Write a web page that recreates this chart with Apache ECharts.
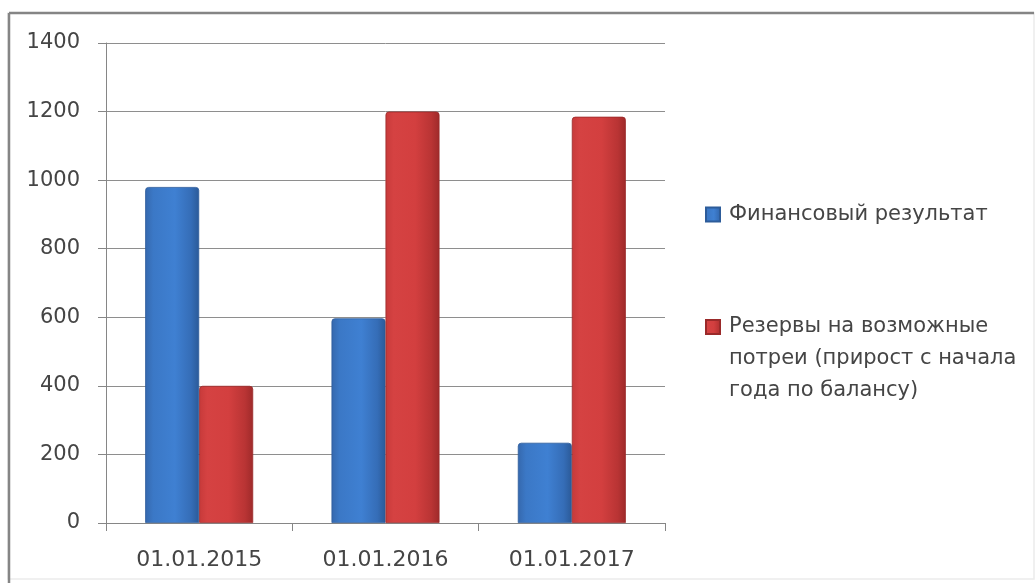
<!DOCTYPE html>
<html>
<head>
<meta charset="utf-8">
<script src="https://cdn.jsdelivr.net/npm/echarts@6/dist/echarts.min.js"></script>
<style>
  html, body { margin: 0; padding: 0; background: #fff; }
  #chart { width: 1036px; height: 583px; }
</style>
</head>
<body>
<div id="chart"></div>
<script>
const categories = ['01.01.2015', '01.01.2016', '01.01.2017'];
const seriesNames = ['Финансовый результат', 'Резервы на возможные потреи (прирост с начала года по балансу)'];
const finResult = [980, 597, 234];
const reserves = [400, 1200, 1185];
const legendLines2 = ['Резервы на возможные', 'потреи (прирост с начала', 'года по балансу)'];

const FONT = '"DejaVu Sans", "Open Sans", sans-serif';
const TXT = '#454545';

function hGrad(stops) {
  return new echarts.graphic.LinearGradient(0, 0, 1, 0, stops.map((c) => ({ offset: c[0], color: c[1] })));
}
const blueFill = hGrad([[0, '#3568ad'], [0.15, '#3b78c6'], [0.55, '#3f80d2'], [0.85, '#356db7'], [1, '#2b5a98']]);
const redFill = hGrad([[0, '#c73a3a'], [0.15, '#d54242'], [0.55, '#d33f3f'], [0.85, '#b93434'], [1, '#9e2a2a']]);

const chart = echarts.init(document.getElementById('chart'), null, { renderer: 'canvas' });
chart.setOption({
  backgroundColor: '#ffffff',
  animation: false,
  textStyle: { fontFamily: FONT },
  graphic: [
    { type: 'rect', shape: { x: 8, y: 13, width: 1026, height: 566 }, style: { fill: 'none', stroke: '#ececec', lineWidth: 1.5 }, silent: true },
    { type: 'line', shape: { x1: 9, y1: 13, x2: 1034, y2: 13 }, style: { stroke: '#858585', lineWidth: 2.5 }, silent: true },
    { type: 'line', shape: { x1: 9, y1: 13, x2: 9, y2: 583 }, style: { stroke: '#858585', lineWidth: 2.5 }, silent: true }
  ],
  grid: { left: 106, right: 371, top: 43, bottom: 60, containLabel: false },
  legend: [
    {
      data: [seriesNames[0]],
      left: 705, top: 204,
      orient: 'vertical',
      padding: 0,
      itemWidth: 14, itemHeight: 14,
      icon: 'rect',
      selectedMode: false,
      textStyle: { fontFamily: FONT, fontSize: 21, color: TXT, padding: [0, 0, 0, 4] }
    },
    {
      data: [seriesNames[1]],
      left: 705, top: 247,
      orient: 'vertical',
      padding: 0,
      itemWidth: 14, itemHeight: 14,
      icon: 'rect',
      selectedMode: false,
      formatter: () => '\n\n' + legendLines2.join('\n'),
      textStyle: { fontFamily: FONT, fontSize: 21, color: TXT, lineHeight: 32, padding: [0, 0, 0, 4] }
    }
  ],
  xAxis: {
    type: 'category',
    data: categories,
    axisLine: { show: true, lineStyle: { color: '#868686', width: 1 } },
    axisTick: { show: true, length: 8, alignWithLabel: false, lineStyle: { color: '#868686' } },
    axisLabel: { fontFamily: FONT, fontSize: 22, color: TXT, margin: 26 },
    splitLine: { show: false }
  },
  yAxis: {
    type: 'value',
    min: 0, max: 1400, interval: 200,
    axisLine: { show: true, lineStyle: { color: '#868686', width: 1 } },
    axisTick: { show: true, length: 8, lineStyle: { color: '#868686' } },
    axisLabel: { fontFamily: FONT, fontSize: 21, color: TXT, margin: 26, formatter: (v) => String(v) },
    splitLine: { show: true, lineStyle: { color: '#8e8e8e', width: 1 } }
  },
  series: [
    {
      name: seriesNames[0], type: 'bar', data: finResult,
      barWidth: 54, barGap: '0%',
      itemStyle: { color: blueFill, borderColor: '#2d5c9a', borderWidth: 0.8, borderRadius: [3, 3, 0, 0] }
    },
    {
      name: seriesNames[1], type: 'bar', data: reserves,
      barWidth: 54, barGap: '0%',
      itemStyle: { color: redFill, borderColor: '#9a2a2a', borderWidth: 0.8, borderRadius: [3, 3, 0, 0] }
    }
  ]
});
</script>
</body>
</html>
